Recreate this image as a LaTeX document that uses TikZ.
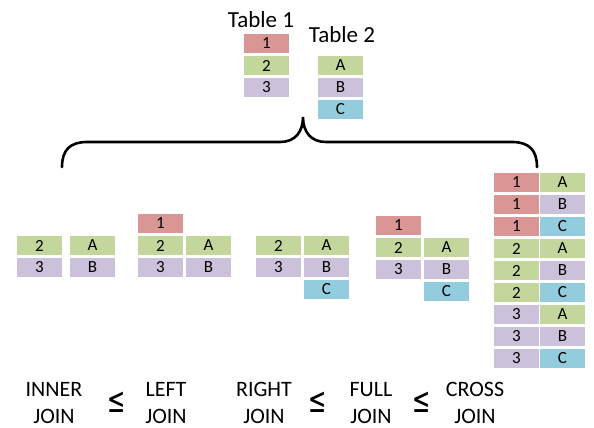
\documentclass[tikz,border=0pt]{standalone}
\usepackage{fontspec}
\setmainfont{Carlito}
\newfontfamily\symfont{DejaVu Sans}
\definecolor{cred}{HTML}{D99694}
\definecolor{cgreen}{HTML}{C3D69B}
\definecolor{cpurple}{HTML}{CCC1DA}
\definecolor{cblue}{HTML}{93CDDD}
\tikzset{
  cell/.style={minimum width=45pt, minimum height=19pt, inner sep=0pt, font=\fontsize{17}{19}\selectfont},
  r/.style={cell, fill=cred},
  g/.style={cell, fill=cgreen},
  p/.style={cell, fill=cpurple},
  b/.style={cell, fill=cblue},
  lab/.style={align=center, anchor=base, inner sep=0pt, font=\fontsize{22}{27}\selectfont},
  leq/.style={inner sep=0pt, xscale=0.62, font=\symfont\fontsize{35}{38}\selectfont},
  tlab/.style={inner sep=0pt, font=\fontsize{23}{26}\selectfont},
  bracestyle/.style={line width=2.6pt, line cap=round}
}
\begin{document}
\begin{tikzpicture}[x=1pt,y=-1pt]
\useasboundingbox (0,0) rectangle (594,428);
% Tables
\node[tlab, anchor=base] (t1lab) at (261,28) {Table 1};
\node[tlab, anchor=base] (t2lab) at (342,43) {Table 2};
\node[r] (t1a) at (266.5,43.5) {1};
\node[g] (t1b) at (266.5,65.5) {2};
\node[p] (t1c) at (266.5,87.5) {3};
\node[g] (t2a) at (340.5,65.5) {A};
\node[p] (t2b) at (340.5,87.5) {B};
\node[b] (t2c) at (340.5,109.5) {C};
% Brace
\draw[bracestyle] (62,167) .. controls (62,150) and (70,142) .. (87,142) -- (280,142)
  .. controls (295,142) and (303,132) .. (303,117)
  .. controls (303,132) and (311,142) .. (326,142) -- (512,142)
  .. controls (529,142) and (537,150) .. (537,167);
% Inner join
\node[g] (i1) at (39.5,245.5) {2};
\node[p] (i2) at (39.5,267.5) {3};
\node[g] (i3) at (92.5,245.5) {A};
\node[p] (i4) at (92.5,267.5) {B};
% Left join
\node[r] (l1) at (160.5,223.5) {1};
\node[g] (l2) at (160.5,245.5) {2};
\node[p] (l3) at (160.5,267.5) {3};
\node[g] (l4) at (208.5,245.5) {A};
\node[p] (l5) at (208.5,267.5) {B};
% Right join
\node[g] (rj1) at (278.5,245.5) {2};
\node[p] (rj2) at (278.5,267.5) {3};
\node[g] (rj3) at (326.5,245.5) {A};
\node[p] (rj4) at (326.5,267.5) {B};
\node[b] (rj5) at (326.5,289.5) {C};
% Full join
\node[r] (f1) at (398.5,225.5) {1};
\node[g] (f2) at (398.5,247.5) {2};
\node[p] (f3) at (398.5,269.5) {3};
\node[g] (f4) at (446.5,247.5) {A};
\node[p] (f5) at (446.5,269.5) {B};
\node[b] (f6) at (446.5,291.5) {C};
% Cross join
\node[r] (c1) at (516.5,182.5) {1};
\node[g] (c2) at (562.5,182.5) {A};
\node[r] (c3) at (516.5,204.5) {1};
\node[p] (c4) at (562.5,204.5) {B};
\node[r] (c5) at (516.5,226.5) {1};
\node[b] (c6) at (562.5,226.5) {C};
\node[g] (c7) at (516.5,248.5) {2};
\node[g] (c8) at (562.5,248.5) {A};
\node[g] (c9) at (516.5,270.5) {2};
\node[p] (c10) at (562.5,270.5) {B};
\node[g] (c11) at (516.5,292.5) {2};
\node[b] (c12) at (562.5,292.5) {C};
\node[p] (c13) at (516.5,314.5) {3};
\node[g] (c14) at (562.5,314.5) {A};
\node[p] (c15) at (516.5,336.5) {3};
\node[p] (c16) at (562.5,336.5) {B};
\node[p] (c17) at (516.5,358.5) {3};
\node[b] (c18) at (562.5,358.5) {C};
% Labels
\node[lab] (linner) at (54,423) {INNER\\JOIN};
\node[lab] (lleft) at (166,423) {LEFT\\JOIN};
\node[lab] (lright) at (264,423) {RIGHT\\JOIN};
\node[lab] (lfull) at (371,423) {FULL\\JOIN};
\node[lab] (lcross) at (475,423) {CROSS\\JOIN};
\node[leq] (le1) at (117,402) {≤};
\node[leq] (le2) at (318,402) {≤};
\node[leq] (le3) at (422,402) {≤};
\end{tikzpicture}
\end{document}
